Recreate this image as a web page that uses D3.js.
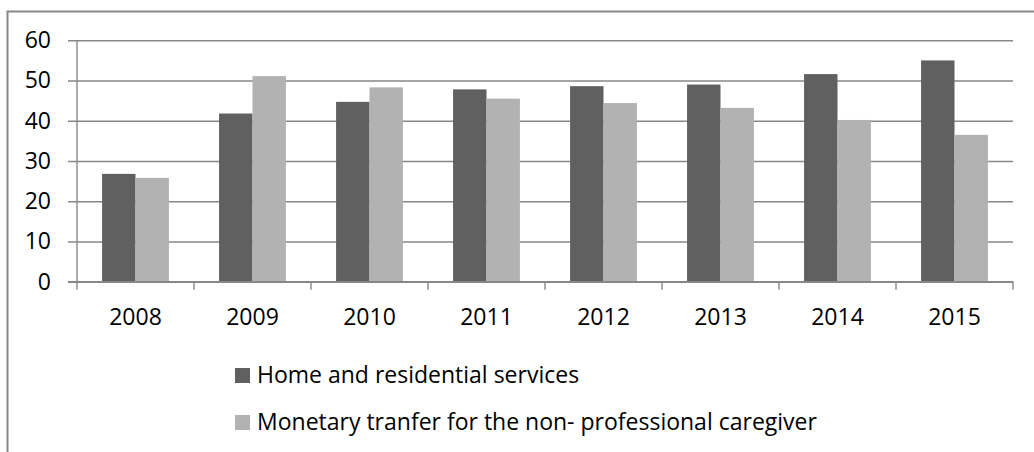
<html lang="en">

<head>
  <meta charset="utf-8">
  <title>Home services vs monetary transfer</title>
  <script src="https://d3js.org/d3.v7.min.js"></script>
  <style>
    body { margin: 0; background: #fff; }
    text { font-family: "Open Sans", Lato, sans-serif; fill: #000; }
  </style>
</head>

<body>
  <svg width="1034" height="452"></svg>
  <script>
    const years = ["2008", "2009", "2010", "2011", "2012", "2013", "2014", "2015"];
    const homeServices = [26.8, 41.8, 44.7, 47.8, 48.6, 49.0, 51.6, 55.0];
    const monetaryTransfer = [25.8, 51.1, 48.3, 45.5, 44.4, 43.2, 40.2, 36.5];
    const seriesNames = ["Home and residential services", "Monetary tranfer for the non- professional caregiver"];
    const seriesColors = ["#606060", "#b2b2b2"];
    const yTicks = [0, 10, 20, 30, 40, 50, 60];

    const svg = d3.select("svg");
    const gridColor = "#878787";
    const fontSize = "23px";

    // outer chart frame (cut off at right and bottom)
    svg.append("rect")
      .attr("x", 7.5).attr("y", 11.5)
      .attr("width", 1100).attr("height", 500)
      .attr("fill", "none")
      .attr("stroke", gridColor)
      .attr("stroke-width", 2);

    const plotLeft = 77, plotRight = 1013, plotTop = 40.3, plotBottom = 281.7;

    const y = d3.scaleLinear().domain([0, 60]).range([plotBottom, plotTop]);
    const x0 = d3.scaleBand().domain(years).range([plotLeft, plotRight])
      .paddingInner(1.5 / 3.5).paddingOuter(0.75 / 3.5);
    const x1 = d3.scaleBand().domain([0, 1]).range([0, x0.bandwidth()]);
    const step = (plotRight - plotLeft) / years.length;

    // gridlines + y labels
    const yAxis = d3.axisLeft(y).tickValues(yTicks).tickSize(0);
    const gy = svg.append("g")
      .attr("transform", `translate(${plotLeft - 9},0)`)
      .call(yAxis);
    gy.select(".domain").remove();
    gy.selectAll(".tick line")
      .attr("x1", 0).attr("x2", plotRight - plotLeft + 9)
      .attr("stroke", gridColor).attr("stroke-width", 1.4);
    gy.selectAll(".tick text")
      .attr("x", -17)
      .style("font-size", fontSize)
      .style("font-family", '"Open Sans", Lato, sans-serif');

    // y axis line
    svg.append("line")
      .attr("x1", plotLeft).attr("x2", plotLeft)
      .attr("y1", plotTop).attr("y2", plotBottom)
      .attr("stroke", gridColor).attr("stroke-width", 1.4);

    // bars
    const series = [homeServices, monetaryTransfer];
    series.forEach((vals, s) => {
      svg.append("g").selectAll("rect")
        .data(vals)
        .join("rect")
        .attr("x", (d, i) => x0(years[i]) + x1(s))
        .attr("y", d => y(d))
        .attr("width", x1.bandwidth())
        .attr("height", d => y(0) - y(d))
        .attr("fill", seriesColors[s]);
    });

    // x axis line and ticks at category boundaries
    svg.append("line")
      .attr("x1", plotLeft - 9).attr("x2", plotRight)
      .attr("y1", plotBottom).attr("y2", plotBottom)
      .attr("stroke", gridColor).attr("stroke-width", 1.4);
    svg.append("g").selectAll("line")
      .data(d3.range(years.length + 1))
      .join("line")
      .attr("x1", d => plotLeft + d * step).attr("x2", d => plotLeft + d * step)
      .attr("y1", plotBottom).attr("y2", plotBottom + 8)
      .attr("stroke", gridColor).attr("stroke-width", 1.4);

    svg.append("g").selectAll("text")
      .data(years)
      .join("text")
      .attr("x", d => x0(d) + x0.bandwidth() / 2)
      .attr("y", 325)
      .attr("text-anchor", "middle")
      .style("font-size", fontSize)
      .text(d => d);

    // legend
    const legend = svg.append("g").selectAll("g")
      .data(seriesNames)
      .join("g")
      .attr("transform", (d, i) => `translate(235,${368 + i * 47})`);
    legend.append("rect")
      .attr("width", 15).attr("height", 15)
      .attr("fill", (d, i) => seriesColors[i]);
    legend.append("text")
      .attr("x", 22).attr("y", 15)
      .style("font-size", fontSize)
      .text(d => d);
  </script>
</body>

</html>
